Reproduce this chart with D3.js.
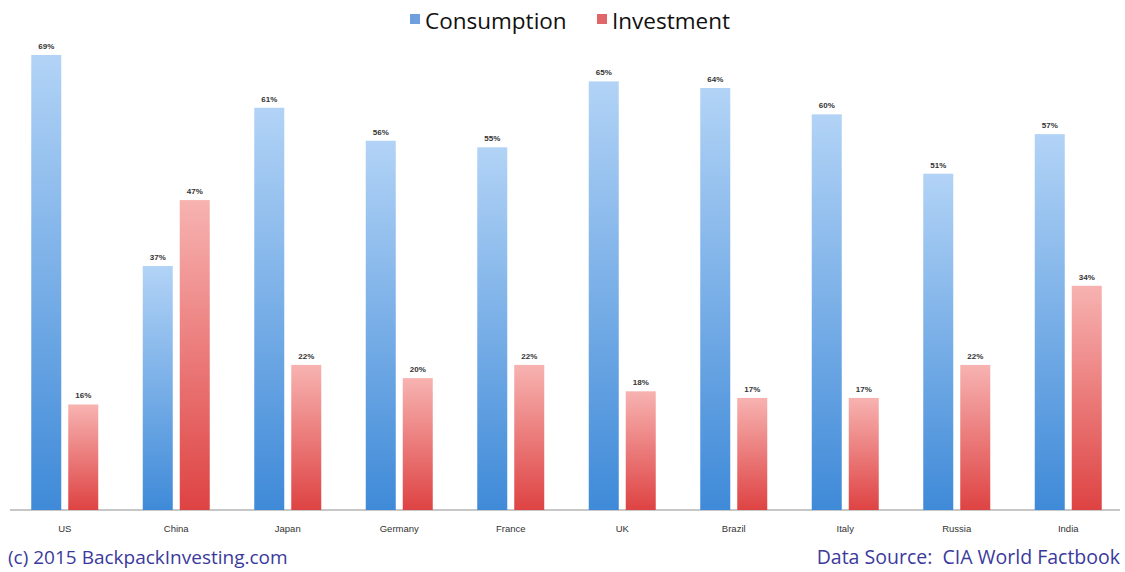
<!DOCTYPE html>
<html>
<head>
<meta charset="utf-8">
<script src="https://cdn.jsdelivr.net/npm/d3@7"></script>
<style>
body { margin: 0; background: #fff; }
svg { display: block; }
</style>
</head>
<body>
<script>
var countries = ["US", "China", "Japan", "Germany", "France", "UK", "Brazil", "Italy", "Russia", "India"];
var consumption = [69, 37, 61, 56, 55, 65, 64, 60, 51, 57];
var investment = [16, 47, 22, 20, 22, 18, 17, 17, 22, 34];
var seriesNames = ["Consumption", "Investment"];

var width = 1125;
var height = 572;
var baseY = 510;

var svg = d3.select("body")
    .append("svg")
    .attr("width", width)
    .attr("height", height);

// gradients for the bars
var defs = svg.append("defs");
function grad(id, top, bottom) {
    var g = defs.append("linearGradient")
        .attr("id", id)
        .attr("x1", 0).attr("y1", 0).attr("x2", 0).attr("y2", 1);
    g.append("stop").attr("offset", "0%").attr("stop-color", top);
    g.append("stop").attr("offset", "100%").attr("stop-color", bottom);
}
grad("gBlue", "#b2d3f6", "#3f8ad8");
grad("gRed", "#f7b3b1", "#de4343");
var fills = { Consumption: "url(#gBlue)", Investment: "url(#gRed)" };
var swatch = { Consumption: "#6f9fdc", Investment: "#e0666a" };

var x0 = d3.scaleBand()
    .domain(countries)
    .range([9, 1124]);
var x1 = d3.scaleBand()
    .domain(seriesNames)
    .range([-33.5, 33.5])
    .paddingInner(0.189);
var y = d3.scaleLinear()
    .domain([0, 69])
    .range([baseY, 55]);

var rows = countries.map(function(c, i) {
    return { country: c, values: [
        { name: "Consumption", value: consumption[i] },
        { name: "Investment", value: investment[i] }
    ] };
});

// axis line
svg.append("line")
    .attr("x1", 10).attr("x2", 1120)
    .attr("y1", baseY).attr("y2", baseY)
    .attr("stroke", "#b5b5b5")
    .attr("stroke-width", 1.5);

var group = svg.selectAll("g.country")
    .data(rows)
    .enter()
    .append("g")
    .attr("class", "country")
    .attr("transform", function(d) {
        return "translate(" + (x0(d.country) + x0.bandwidth() / 2) + ",0)";
    });

group.selectAll("rect")
    .data(function(d) { return d.values; })
    .enter()
    .append("rect")
    .attr("x", function(d) { return x1(d.name); })
    .attr("y", function(d) { return y(d.value); })
    .attr("width", x1.bandwidth())
    .attr("height", function(d) { return baseY - y(d.value); })
    .attr("fill", function(d) { return fills[d.name]; });

group.selectAll("text.val")
    .data(function(d) { return d.values; })
    .enter()
    .append("text")
    .attr("class", "val")
    .attr("x", function(d) { return x1(d.name) + x1.bandwidth() / 2; })
    .attr("y", function(d) { return y(d.value) - 6; })
    .attr("text-anchor", "middle")
    .attr("font-family", "Liberation Sans, Arial, sans-serif")
    .attr("font-size", "8px")
    .attr("font-weight", "bold")
    .attr("fill", "#333")
    .text(function(d) { return d.value + "%"; });

// x labels
svg.selectAll("text.cat")
    .data(countries)
    .enter()
    .append("text")
    .attr("class", "cat")
    .attr("x", function(d) { return x0(d) + x0.bandwidth() / 2; })
    .attr("y", 532)
    .attr("text-anchor", "middle")
    .attr("font-family", "Liberation Sans, Arial, sans-serif")
    .attr("font-size", "9.5px")
    .attr("fill", "#333")
    .text(function(d) { return d; });

// legend
var legendX = [410, 597];
var leg = svg.selectAll("g.legend")
    .data(seriesNames)
    .enter()
    .append("g")
    .attr("class", "legend")
    .attr("transform", function(d, i) { return "translate(" + legendX[i] + ",0)"; });
leg.append("rect")
    .attr("x", 0).attr("y", 14)
    .attr("width", 10).attr("height", 10)
    .attr("fill", function(d) { return swatch[d]; });
leg.append("text")
    .attr("x", 15).attr("y", 29)
    .attr("font-family", "Open Sans, sans-serif")
    .attr("font-size", "22.5px")
    .attr("font-weight", 500)
    .attr("fill", "#111")
    .text(function(d) { return d; });

// footer
svg.append("text")
    .attr("x", 8).attr("y", 564)
    .attr("font-family", "Open Sans, sans-serif")
    .attr("font-size", "19px")
    .attr("fill", "#3b3a9c")
    .text("(c) 2015 BackpackInvesting.com");
svg.append("text")
    .attr("x", 1120).attr("y", 564)
    .attr("text-anchor", "end")
    .attr("font-family", "Open Sans, sans-serif")
    .attr("font-size", "19.5px")
    .attr("fill", "#3b3a9c")
    .attr("xml:space", "preserve")
    .text("Data Source:  CIA World Factbook");
</script>
</body>
</html>
